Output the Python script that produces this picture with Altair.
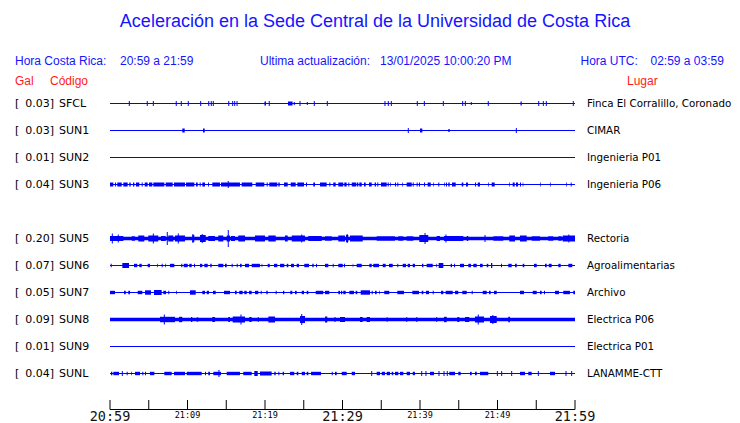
import altair as alt
import pandas as pd

# ---------------- data ----------------
TITLE = "Aceleración en la Sede Central de la Universidad de Costa Rica"
HDR_LOCAL_LBL = "Hora Costa Rica:"
HDR_LOCAL_VAL = "20:59 a 21:59"
HDR_UPD_LBL = "Ultima actualización:"
HDR_UPD_VAL = "13/01/2025 10:00:20 PM"
HDR_UTC_LBL = "Hora UTC:"
HDR_UTC_VAL = "02:59 a 03:59"
COL_GAL = "Gal"
COL_CODE = "Código"
COL_PLACE = "Lugar"

codes = ["SFCL", "SUN1", "SUN2", "SUN3", "SUN5", "SUN6", "SUN7", "SUN8", "SUN9", "SUNL"]
slots = [0, 1, 2, 3, 5, 6, 7, 8, 9, 10]
gal = [0.03, 0.03, 0.01, 0.04, 0.20, 0.07, 0.05, 0.09, 0.01, 0.04]
places = ["Finca El Corralillo, Coronado", "CIMAR", "Ingenieria P01", "Ingenieria P06",
          "Rectoria", "Agroalimentarias", "Archivo", "Electrica P06", "Electrica P01",
          "LANAMME-CTT"]

# minutes after 20:59
tick_minutes = [0, 5, 10, 15, 20, 25, 30, 35, 40, 45, 50, 55, 60]
big_label_minutes = [0, 30, 60]
big_labels = ["20:59", "21:29", "21:59"]
small_label_minutes = [10, 20, 40, 50]
small_labels = ["21:09", "21:19", "21:39", "21:49"]

# bursts: (start min, end min, half amplitude); spikes: (min, half amplitude)
bursts = {
    "SFCL": [(19.93, 20.13, 2), (22.97, 23.55, 2), (52.97, 53.13, 2)],
    "SUN1": [(9.33, 9.64, 2), (12.0, 12.22, 2), (40.0, 40.3, 2), (43.65, 43.83, 1.5)],
    "SUN2": [],
    "SUN3": [(0.00, 0.43, 2), (0.65, 0.77, 2), (0.94, 1.51, 2), (1.72, 2.28, 2), (2.49, 2.67, 2),
             (2.97, 3.14, 2), (3.35, 3.78, 2), (4.09, 4.22, 2), (4.48, 4.86, 2), (5.03, 5.46, 2),
             (5.59, 7.01, 2), (7.19, 8.09, 2), (8.26, 9.68, 2), (9.81, 10.88, 2), (11.10, 11.32, 2),
             (11.57, 11.70, 2), (11.91, 12.26, 2), (12.65, 12.77, 2), (13.20, 14.19, 2),
             (14.32, 16.77, 2), (16.99, 18.36, 2), (18.80, 19.91, 2), (20.22, 20.35, 2),
             (20.55, 21.59, 2), (21.72, 21.90, 2), (22.45, 22.93, 2), (23.32, 23.96, 2),
             (24.17, 25.03, 2), (25.29, 25.42, 2), (26.23, 26.45, 2), (27.10, 27.96, 2),
             (28.30, 28.43, 2), (28.81, 29.12, 2), (29.46, 30.10, 2), (30.23, 30.54, 2),
             (30.75, 30.88, 2), (31.19, 31.74, 2), (31.83, 32.04, 2), (32.17, 32.48, 2),
             (32.77, 32.99, 2), (33.42, 33.77, 2), (34.15, 34.32, 2), (34.49, 34.62, 2),
             (34.97, 35.70, 2), (35.83, 35.96, 2), (36.13, 36.22, 2), (36.77, 36.90, 2),
             (37.07, 37.20, 2), (37.72, 37.81, 2), (38.28, 38.93, 2), (39.06, 39.19, 2),
             (39.57, 39.70, 2), (39.87, 40.00, 2), (40.52, 40.65, 2), (40.99, 41.38, 2),
             (41.72, 41.81, 2), (42.36, 42.49, 2), (43.10, 43.19, 2), (43.35, 43.48, 2),
             (43.65, 43.83, 2), (44.13, 44.61, 2), (45.38, 45.59, 2), (45.94, 46.19, 2),
             (47.10, 47.23, 2), (47.45, 47.74, 2), (48.81, 48.90, 2), (49.25, 49.64, 2),
             (51.52, 51.61, 2), (51.96, 52.22, 2), (52.39, 52.65, 2), (52.90, 53.03, 2),
             (53.25, 53.33, 2), (55.48, 55.57, 2), (56.77, 56.86, 2), (58.88, 58.97, 2),
             (59.45, 59.57, 2)],
    "SUN5": [(0, 60, 1.7), (0.0, 1.72, 2.5), (2.80, 3.23, 2.2), (3.65, 4.43, 3), (4.94, 6.23, 3),
             (6.58, 7.19, 2.5), (7.52, 8.17, 3), (8.39, 9.68, 3), (10.62, 10.88, 3.5),
             (11.61, 12.35, 3.5), (12.68, 13.55, 2.5), (13.97, 14.62, 3), (15.06, 15.48, 3),
             (15.61, 16.13, 2.5), (16.55, 17.42, 3), (18.71, 20.0, 3), (20.43, 21.38, 3),
             (22.58, 22.93, 3), (23.45, 25.16, 3), (25.59, 27.32, 2.5), (27.74, 28.61, 2.2),
             (29.46, 30.32, 3), (30.45, 30.75, 3.5), (30.97, 32.61, 3), (34.41, 36.77, 2.2),
             (37.20, 37.85, 2.2), (38.28, 39.14, 2.2), (39.91, 41.07, 3.5), (42.15, 42.58, 2.5),
             (43.10, 45.59, 2.5), (46.03, 46.23, 2.5), (49.46, 50.75, 2.2), (51.52, 52.26, 3),
             (52.90, 53.77, 3), (54.41, 55.48, 2.2), (56.55, 57.20, 2.2), (57.85, 58.28, 2.2),
             (58.41, 60.0, 3)],
    "SUN6": [(0.09, 0.22, 1.7), (1.59, 2.45, 2.5), (3.10, 3.52, 1.7), (3.78, 4.09, 1.7),
             (4.86, 5.16, 1.7), (6.10, 6.19, 1.7), (6.67, 6.80, 1.7), (7.14, 7.23, 1.7),
             (7.74, 8.30, 1.7), (9.19, 9.33, 1.7), (9.51, 10.03, 1.7), (10.23, 10.54, 1.7),
             (10.84, 10.97, 1.7), (11.61, 11.91, 1.7), (12.17, 12.61, 1.7), (12.94, 13.12, 1.7),
             (13.97, 14.62, 1.7), (14.84, 15.06, 1.7), (15.70, 15.83, 1.7), (16.35, 16.48, 1.7),
             (16.77, 16.99, 1.7), (17.42, 17.94, 1.7), (18.28, 19.35, 1.7), (19.57, 19.65, 1.7),
             (20.35, 20.61, 1.7), (21.16, 21.59, 1.7), (21.94, 22.49, 1.7), (22.80, 23.01, 1.7),
             (23.35, 23.74, 1.7), (24.09, 24.39, 1.7), (25.07, 25.68, 1.7), (26.10, 26.28, 1.7),
             (26.58, 26.71, 1.7), (27.74, 28.17, 1.7), (28.74, 28.86, 1.7), (29.46, 30.03, 1.7),
             (30.19, 30.32, 1.7), (31.32, 31.39, 1.7), (31.83, 32.48, 1.7), (33.46, 33.77, 1.7),
             (33.97, 34.71, 1.7), (35.19, 35.57, 1.7), (36.0, 36.48, 1.7), (37.07, 37.20, 1.7),
             (37.77, 38.19, 1.7), (38.41, 38.71, 1.7), (39.06, 39.35, 1.7), (40.26, 40.43, 1.7),
             (40.86, 41.64, 1.7), (42.06, 42.15, 1.7), (42.41, 43.01, 2.5), (43.96, 44.13, 1.7),
             (44.39, 44.52, 1.7), (45.16, 45.68, 1.7), (46.23, 46.58, 1.7), (46.88, 47.32, 1.7),
             (47.74, 48.09, 1.7), (48.61, 48.81, 1.7), (49.16, 49.33, 2.5), (50.45, 50.58, 1.7),
             (51.39, 51.83, 1.7), (52.26, 52.48, 1.7), (53.25, 53.46, 1.7), (54.71, 55.06, 1.7),
             (56.13, 56.35, 1.7), (56.61, 56.99, 1.7), (57.85, 58.15, 1.7), (59.14, 59.65, 1.7)],
    "SUN7": [(0.0, 0.65, 1.7), (1.81, 2.03, 1.7), (2.36, 2.58, 1.7), (3.57, 4.17, 1.7),
             (4.52, 5.29, 2.2), (5.68, 6.67, 2.5), (6.88, 7.23, 1.7), (7.52, 7.65, 1.7),
             (8.55, 8.65, 1.7), (10.32, 11.06, 2.2), (11.91, 12.26, 1.7), (12.48, 12.77, 1.7),
             (13.29, 13.64, 1.7), (14.71, 15.48, 1.7), (16.13, 16.35, 1.7), (16.68, 17.12, 1.7),
             (17.33, 17.64, 1.7), (17.94, 18.28, 1.7), (18.71, 19.14, 1.7), (19.45, 19.57, 1.7),
             (20.17, 20.35, 1.7), (21.38, 21.51, 1.7), (22.32, 22.49, 1.7), (23.26, 23.52, 1.7),
             (23.87, 24.09, 1.7), (24.74, 25.03, 1.7), (25.38, 25.59, 1.7), (26.54, 27.52, 1.7),
             (27.74, 28.30, 1.7), (29.46, 29.68, 1.7), (29.81, 29.97, 1.7), (30.10, 30.41, 1.7),
             (30.88, 31.48, 1.7), (31.70, 31.91, 1.7), (32.35, 33.55, 2.2), (33.77, 33.90, 1.7),
             (34.19, 34.41, 1.7), (34.75, 34.84, 1.7), (35.39, 36.04, 1.7), (37.07, 37.94, 1.7),
             (39.01, 39.87, 1.7), (40.22, 40.43, 1.7), (40.77, 41.16, 1.7), (41.64, 41.77, 1.7),
             (42.71, 43.01, 1.7), (43.31, 44.22, 1.7), (44.52, 44.94, 1.7), (45.46, 46.03, 1.7),
             (46.67, 46.80, 1.7), (48.09, 48.61, 1.7), (48.90, 49.12, 1.7), (49.55, 49.90, 1.7),
             (52.90, 53.42, 1.7), (54.54, 55.06, 1.7), (55.48, 55.70, 1.7), (56.0, 56.13, 1.7),
             (57.42, 57.94, 1.7), (58.49, 59.35, 1.7), (59.78, 60.0, 1.7)],
    "SUN8": [(0, 60, 1.7), (6.45, 8.39, 2.7), (8.90, 9.33, 2.7), (10.45, 10.62, 2.5),
             (11.19, 11.39, 2.2), (13.20, 13.55, 2.5), (15.26, 15.48, 2.5), (15.83, 17.42, 3),
             (17.97, 18.28, 2.5), (19.06, 19.23, 2.2), (20.43, 21.29, 3), (24.52, 25.16, 3.5),
             (27.74, 28.04, 3), (28.94, 29.12, 2.2), (29.68, 30.32, 2.5), (32.26, 32.61, 2.5),
             (33.12, 33.55, 2.5), (35.70, 35.83, 2.2), (38.19, 38.36, 2.2), (39.48, 39.65, 2.2),
             (42.06, 42.23, 2.2), (43.10, 43.45, 2.7), (44.81, 45.07, 2.5), (45.81, 46.36, 2.5),
             (47.10, 48.26, 3), (49.03, 49.90, 3.5), (51.39, 51.61, 2.7)],
    "SUN9": [],
    "SUNL": [(0.13, 0.30, 1.7), (0.43, 1.16, 1.7), (2.15, 2.28, 1.7), (2.71, 2.80, 1.7),
             (3.23, 3.87, 1.7), (4.17, 4.30, 1.7), (4.52, 4.65, 1.7), (5.16, 5.72, 1.7),
             (7.01, 7.96, 1.7), (8.26, 9.68, 1.7), (9.90, 11.83, 1.7), (12.26, 12.39, 1.7),
             (12.68, 12.90, 1.7), (13.33, 14.32, 1.7), (15.06, 16.77, 1.7), (17.20, 18.28, 1.7),
             (18.62, 19.06, 2.5), (19.35, 20.86, 2.0), (21.20, 21.38, 1.7), (21.72, 21.85, 1.7),
             (22.28, 22.45, 1.7), (23.23, 23.78, 1.7), (24.09, 24.30, 1.7), (24.74, 25.16, 1.7),
             (25.38, 25.59, 1.7), (25.94, 27.23, 1.7), (28.61, 28.74, 1.7), (29.03, 29.25, 1.7),
             (29.90, 30.54, 1.7), (31.19, 31.61, 1.7), (34.41, 34.84, 1.7), (35.06, 35.48, 1.7),
             (35.70, 36.13, 1.7), (36.35, 36.55, 1.7), (36.77, 37.20, 1.7), (37.42, 37.85, 1.7),
             (38.28, 38.71, 1.7), (39.06, 39.35, 1.7), (41.29, 41.81, 1.7), (43.78, 44.52, 1.7),
             (44.94, 45.25, 1.7), (46.45, 46.67, 1.7), (47.10, 47.32, 1.7), (47.74, 48.81, 1.7),
             (52.90, 53.55, 1.7), (53.97, 54.41, 1.7), (56.77, 57.42, 1.7)],
}
spikes = {
    "SFCL": [(2.49, 2.5), (4.81, 2.5), (5.59, 2.5), (8.55, 2.5), (9.20, 2.5), (10.10, 2.5),
             (11.70, 2.5), (12.74, 2.5), (13.07, 2.5), (13.33, 2.5), (15.32, 2.5), (15.83, 2.5),
             (16.09, 2.5), (16.39, 2.5), (20.55, 2.5), (23.78, 1.5), (24.52, 2.5), (25.46, 1.5),
             (26.36, 2.5), (28.04, 2.5), (35.48, 2.5), (35.91, 2.5), (36.30, 2.5), (39.65, 2.5),
             (40.56, 2.5), (43.01, 2.5), (45.51, 2.5), (45.85, 2.5), (46.62, 1.5), (48.81, 2.5),
             (55.32, 2.5), (55.91, 2.5), (56.30, 2.5), (59.78, 2.5)],
    "SUN1": [(38.49, 2.5), (52.43, 2.5)],
    "SUN2": [],
    "SUN3": [(15.26, 3.5)],
    "SUN5": [(0.30, 5), (1.07, 4), (5.59, 5), (7.39, 6.5), (8.81, 5), (15.26, 8.5), (24.74, 4),
             (40.65, 5.5), (43.35, 4), (48.39, 3.5), (11.9, 4.5), (10.7, 4.5), (30.6, 4.5),
             (59.2, 4)],
    "SUN6": [],
    "SUN7": [],
    "SUN8": [(7.01, 5), (16.90, 5), (24.74, 5.5), (47.52, 5), (49.4, 4.5)],
    "SUN9": [],
    "SUNL": [(1.59, 2.5), (14.06, 3.5), (33.77, 2.5), (40.22, 2.5), (40.77, 2.5), (42.45, 2.5),
             (43.10, 2.5), (43.52, 2.5), (49.98, 2.5), (50.54, 2.5), (51.83, 2.5), (55.27, 2.5),
             (58.84, 2.5), (59.57, 2.5)],
}

T_START, T_END = 0, 60
ROW = 27  # trace spacing in amplitude units

# ---------------- tables ----------------
stations = pd.DataFrame({
    "code": codes, "slot": slots, "place": places,
    "gal": [f"{g:.2f}]" for g in gal],
    "br": ["["] * len(codes),
})
stations["y"] = stations["slot"] * ROW
stations["t0"] = T_START
stations["t1"] = T_END

rect_rows, spike_rows = [], []
for c, s in zip(codes, slots):
    for (a, b, amp) in bursts[c]:
        rect_rows.append({"code": c, "t0": a, "t1": b, "lo": s * ROW - amp, "hi": s * ROW + amp})
    for (t, amp) in spikes[c]:
        spike_rows.append({"code": c, "t": t, "lo": s * ROW - amp, "hi": s * ROW + amp})
rects = pd.DataFrame(rect_rows)
spk = pd.DataFrame(spike_rows)

ticks = pd.DataFrame({"t": tick_minutes})
big = pd.DataFrame({"t": big_label_minutes, "lab": big_labels})
small = pd.DataFrame({"t": small_label_minutes, "lab": small_labels})

# ---------------- chart ----------------
BLUE = "#0000ff"
TXT_BLUE = "#1414ff"
RED = "#ff1a1a"
W, H = 724, 415

xs = alt.Scale(domain=[T_START, T_END], range=[102, 567])
ys = alt.Scale(domain=[0, 10 * ROW], range=[95.5, 365.5])

base_line = alt.Chart(stations).mark_rule(color=BLUE, strokeWidth=1).encode(
    x=alt.X("t0:Q", scale=xs, axis=None), x2="t1",
    y=alt.Y("y:Q", scale=ys, axis=None))

burst_layer = alt.Chart(rects).mark_rect(color=BLUE).encode(
    x=alt.X("t0:Q", scale=xs, axis=None), x2="t1",
    y=alt.Y("lo:Q", scale=ys, axis=None), y2="hi")

spike_layer = alt.Chart(spk).mark_rule(color=BLUE, strokeWidth=1).encode(
    x=alt.X("t:Q", scale=xs, axis=None),
    y=alt.Y("lo:Q", scale=ys, axis=None), y2="hi")

LBL_FONT = "DejaVu Sans"
lab_br = alt.Chart(stations).mark_text(align="left", baseline="middle", font=LBL_FONT,
                                       fontSize=11, color="black").encode(
    x=alt.value(7), y=alt.Y("y:Q", scale=ys, axis=None), text="br:N")
lab_gal = alt.Chart(stations).mark_text(align="right", baseline="middle", font=LBL_FONT,
                                        fontSize=11, color="black").encode(
    x=alt.value(46), y=alt.Y("y:Q", scale=ys, axis=None), text="gal:N")
lab_code = alt.Chart(stations).mark_text(align="left", baseline="middle", font=LBL_FONT,
                                         fontSize=11, color="black").encode(
    x=alt.value(51), y=alt.Y("y:Q", scale=ys, axis=None), text="code:N")
lab_place = alt.Chart(stations).mark_text(align="left", baseline="middle", font=LBL_FONT,
                                          fontSize=10.3, color="black").encode(
    x=alt.value(579), y=alt.Y("y:Q", scale=ys, axis=None), text="place:N")

axis_line = alt.Chart(pd.DataFrame({"t0": [T_START], "t1": [T_END]})).mark_rule(
    color="black", strokeWidth=1).encode(
    x=alt.X("t0:Q", scale=xs, axis=None), x2="t1", y=alt.value(401.5))
axis_ticks = alt.Chart(ticks).mark_rule(color="black", strokeWidth=1).encode(
    x=alt.X("t:Q", scale=xs, axis=None), y=alt.value(392), y2=alt.value(401.5))
axis_big = alt.Chart(big).mark_text(font="DejaVu Sans Mono", fontSize=13.5, baseline="middle",
                                    color="#111111").encode(
    x=alt.X("t:Q", scale=xs, axis=None), y=alt.value(408.5), text="lab:N")
axis_small = alt.Chart(small).mark_text(font="DejaVu Sans Mono", fontSize=8.5, baseline="middle",
                                        color="black").encode(
    x=alt.X("t:Q", scale=xs, axis=None), y=alt.value(406.5), text="lab:N")


def header(txt, x, y, color, size, align="left"):
    return alt.Chart(pd.DataFrame({"s": [txt]})).mark_text(
        align=align, baseline="middle", font="Liberation Sans", fontSize=size,
        color=color).encode(x=alt.value(x), y=alt.value(y), text="s:N")


headers = [
    header(TITLE, 367, 14, TXT_BLUE, 18, "center"),
    header(HDR_LOCAL_LBL, 7, 53, TXT_BLUE, 12),
    header(HDR_LOCAL_VAL, 112, 53, TXT_BLUE, 12),
    header(HDR_UPD_LBL, 252, 53, TXT_BLUE, 12),
    header(HDR_UPD_VAL, 372, 53, TXT_BLUE, 12),
    header(HDR_UTC_LBL, 572.5, 53, TXT_BLUE, 12),
    header(HDR_UTC_VAL, 642.5, 53, TXT_BLUE, 12),
    header(COL_GAL, 7, 73, RED, 12),
    header(COL_CODE, 42, 73, RED, 12),
    header(COL_PLACE, 619, 73, RED, 12),
]

chart = alt.layer(
    base_line, burst_layer, spike_layer,
    lab_br, lab_gal, lab_code, lab_place,
    axis_line, axis_ticks, axis_big, axis_small,
    *headers,
).properties(
    width=W, height=H, padding=0,
    autosize=alt.AutoSizeParams(type="none"),
    background="white",
).configure_view(stroke=None)

chart.save("out.html", embed_options={"renderer": "svg", "actions": False})
